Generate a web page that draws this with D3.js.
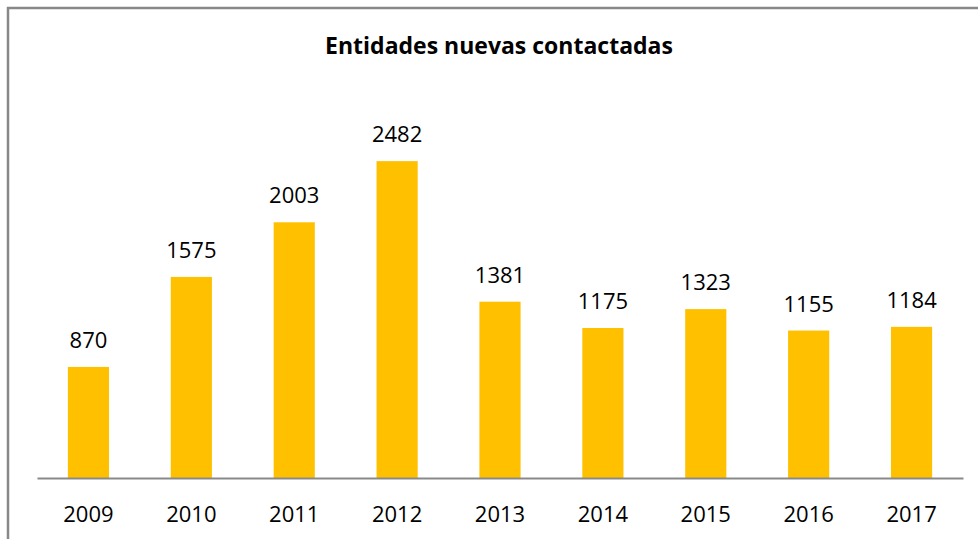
<!DOCTYPE html>
<html>
<head>
<meta charset="utf-8">
<script src="https://cdn.jsdelivr.net/npm/d3@7"></script>
<style>
  body { margin: 0; background: #fff; }
  svg { display: block; }
  text { font-family: "Open Sans", "Liberation Sans", sans-serif; fill: #000; }
</style>
</head>
<body>
<svg width="978" height="539"></svg>
<script>
'use strict';

// datos
var years = ['2009', '2010', '2011', '2012', '2013', '2014', '2015', '2016', '2017'];
var values = [870, 1575, 2003, 2482, 1381, 1175, 1323, 1155, 1184];
var title = 'Entidades nuevas contactadas';

var svg = d3.select('svg');

// marco
svg.append('rect')
  .attr('x', 8).attr('y', 8)
  .attr('width', 990).attr('height', 560)
  .attr('fill', 'none')
  .attr('stroke', '#888')
  .attr('stroke-width', 2.5);

var x = d3.scaleBand()
  .domain(years)
  .range([37, 963])
  .paddingInner(0.6)
  .paddingOuter(0.3);

var y = d3.scaleLinear()
  .domain([0, 3000])
  .range([478, 95]);

svg.append('text')
  .attr('x', 499)
  .attr('y', 54)
  .attr('text-anchor', 'middle')
  .style('font-size', '23px')
  .style('font-weight', 'bold')
  .text(title);

var data = years.map(function (d, i) { return { year: d, value: values[i] }; });

svg.append('g')
  .selectAll('rect')
  .data(data)
  .enter()
  .append('rect')
  .attr('x', function (d) { return x(d.year); })
  .attr('y', function (d) { return y(d.value); })
  .attr('width', x.bandwidth())
  .attr('height', function (d) { return y(0) - y(d.value); })
  .attr('fill', '#FFC000');

svg.append('g')
  .selectAll('text')
  .data(data)
  .enter()
  .append('text')
  .attr('x', function (d) { return x(d.year) + x.bandwidth() / 2; })
  .attr('y', function (d) { return y(d.value) - 19; })
  .attr('text-anchor', 'middle')
  .style('font-size', '22px')
  .text(function (d) { return d.value; });

var xAxis = svg.append('g')
  .attr('transform', 'translate(0,478)')
  .call(d3.axisBottom(x).tickSize(0).tickPadding(28));

xAxis.select('.domain')
  .attr('stroke', '#898989')
  .attr('stroke-width', 2);

xAxis.selectAll('text')
  .style('font-size', '22px')
  .style('font-family', '"Open Sans", "Liberation Sans", sans-serif')
  .attr('fill', '#000');
</script>
</body>
</html>
